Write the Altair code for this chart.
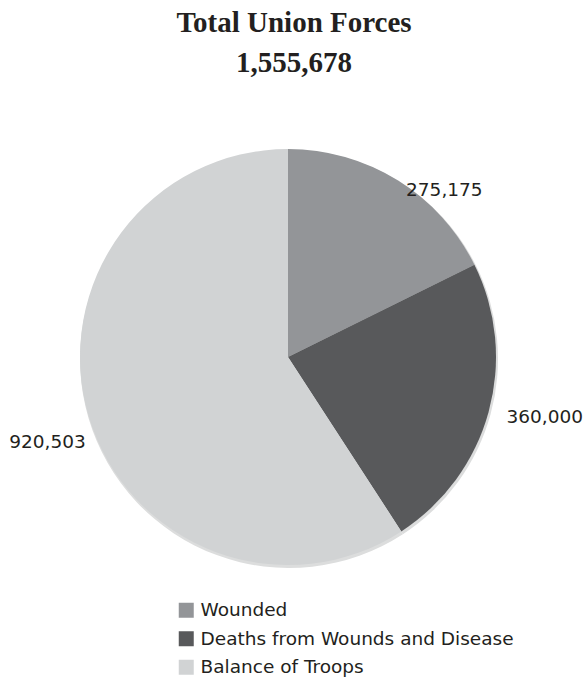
import altair as alt
import pandas as pd

categories = ["Wounded", "Deaths from Wounds and Disease", "Balance of Troops"]
values = [275175, 360000, 920503]
labels = ["275,175", "360,000", "920,503"]
order = [1, 2, 3]
colors = ["#939598", "#58595b", "#d1d3d4"]
title_lines = ["Total Union Forces", "1,555,678"]

df = pd.DataFrame({"category": categories, "value": values, "label": labels, "order": order})

T = 100  # top padding (room for title)
W, H = 588, 679 - T
CX, CY = 288, 357 - T
R = 208
TWO_PI = 6.283185307179586

base = alt.Chart(df).encode(
    theta=alt.Theta("value:Q", stack=True),
    order=alt.Order("order:Q"),
)

shadow = base.mark_arc(radius=R + 1, color="#dcdddd").encode(
    x=alt.value(CX + 1), y=alt.value(CY + 2)
)

pie = base.mark_arc(radius=R).encode(
    x=alt.value(CX),
    y=alt.value(CY),
    color=alt.Color(
        "category:N",
        sort=categories,
        scale=alt.Scale(domain=categories, range=colors),
        legend=alt.Legend(
            title=None,
            orient="none",
            legendX=177,
            legendY=601 - T,
            symbolType="square",
            symbolSize=225,
            symbolStrokeWidth=0,
            labelFont="DejaVu Sans",
            labelFontSize=18.5,
            labelColor="#231f20",
            labelOffset=5,
            labelLimit=600,
            rowPadding=9.5,
            padding=0,
        ),
    ),
)

text_base = alt.Chart(df).transform_joinaggregate(
    total="sum(value)"
).transform_window(
    cum="sum(value)", sort=[alt.SortField("order")], frame=[None, 0]
).transform_calculate(
    mid="(datum.cum - datum.value/2) / datum.total * 2 * PI"
)

def label_layer(cat, dx, dy):
    return text_base.transform_filter(alt.datum.category == cat).mark_text(
        dx=dx, dy=dy, font="DejaVu Sans", fontSize=18.5,
        color="#231f20", align="center", baseline="middle",
    ).encode(
        theta=alt.Theta("mid:Q", scale=alt.Scale(domain=[0, TWO_PI], range=[0, TWO_PI]), stack=False),
        radius=alt.value(230),
        x=alt.value(CX), y=alt.value(CY),
        text="label:N",
    )

lbl1 = label_layer("Wounded", 35, 28)
lbl2 = label_layer("Deaths from Wounds and Disease", 35, -1)
lbl3 = label_layer("Balance of Troops", -20, 20)

chart = alt.layer(shadow, pie, lbl1, lbl2, lbl3).resolve_scale(theta="independent").properties(
    width=W,
    height=H,
    padding={"top": T, "left": 0, "right": 0, "bottom": 0},
    autosize=alt.AutoSizeParams(type="none"),
    title=alt.TitleParams(
        text=title_lines,
        font="Liberation Serif",
        fontSize=29,
        fontWeight="bold",
        color="#231f20",
        lineHeight=40,
        anchor="middle",
        offset=22,
    ),
).configure_view(stroke=None)

chart.save("out.html", embed_options={"renderer": "svg", "actions": False})
